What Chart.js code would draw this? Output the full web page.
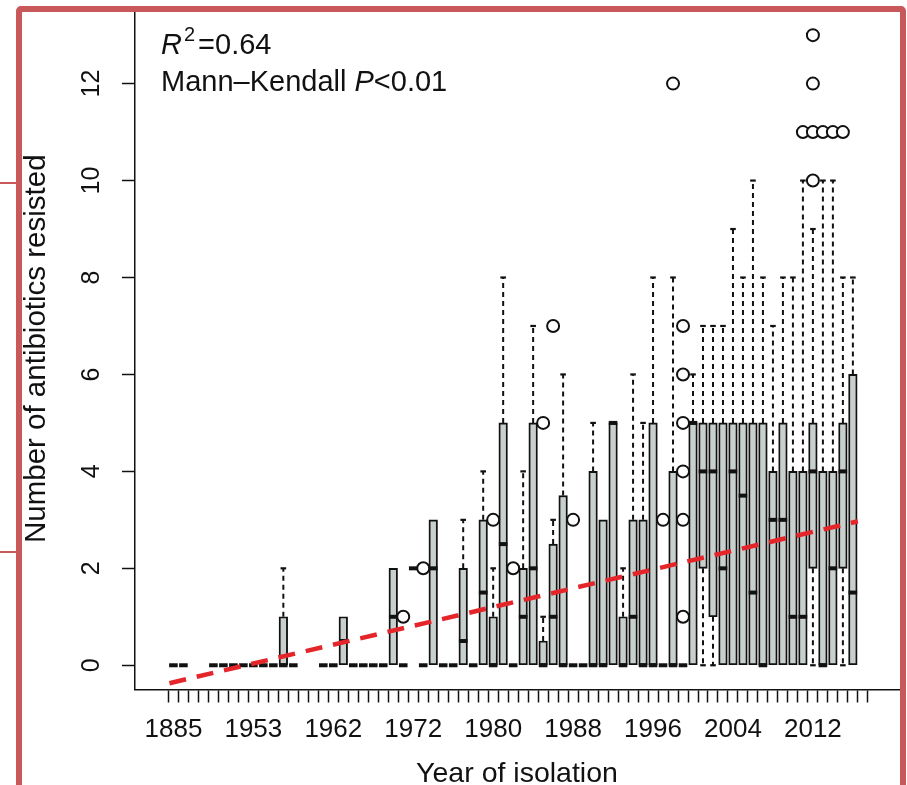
<!DOCTYPE html>
<html lang="en">
<head>
<meta charset="UTF-8">
<title>Antibiotics resisted by year of isolation</title>
<script src="https://cdn.jsdelivr.net/npm/chart.js@4"></script>
<style>
  body { margin: 0; background: #fff; overflow: hidden; }
  #wrap { position: relative; width: 907px; height: 785px; }
  #frame {
    position: absolute; left: 16px; top: 6px; width: 890px; height: 820px;
    border: 6px solid #c9585a; border-radius: 5px; box-sizing: border-box;
    pointer-events: none;
  }
  .tab { position: absolute; left: 0; width: 17px; height: 2px; background: #c9585a; }
</style>
</head>
<body>
<div id="wrap">
  <canvas id="chart" width="907" height="785"></canvas>
  <div id="frame"></div>
  <div class="tab" style="top:182px"></div>
  <div class="tab" style="top:551px"></div>
</div>
<script>
// one entry per year group on the x axis (null = no isolates)
const years = [
  1885, 1914, 1927, 1936, 1943, 1949, 1951, 1952,
  1953, 1954, 1955, 1956, 1957, 1958, 1959, 1960,
  1962, 1963, 1964, 1965, 1966, 1968, 1969, 1970,
  1972, 1973, 1974, 1975, 1976, 1977, 1978, 1979,
  1980, 1981, 1982, 1983, 1984, 1985, 1986, 1987,
  1988, 1989, 1990, 1991, 1992, 1993, 1994, 1995,
  1996, 1997, 1998, 1999, 2000, 2001, 2002, 2003,
  2004, 2005, 2006, 2007, 2008, 2009, 2010, 2011,
  2012, 2013, 2014, 2015, 2016, 2017
]
const lower = [
  0, 0, null, null, 0, 0, 0, 0,
  0, 0, 0, 0, 0, null, null, 0,
  0, 0, 0, 0, 0, 0, 0, 0,
  2, 0, 0, 0, 0, 0, 0, 0,
  0, 0, 0, 0, 0, 0, 0, 0,
  0, 0, 0, 0, 0, 0, 0, 0,
  0, 0, 0, 0, 0, 0, 0, 0,
  0, 0, 0, 0, 0, 0, 0, 0,
  0, 0, 0, 0, 0, null
]
const q1 = [
  0, 0, null, null, 0, 0, 0, 0,
  0, 0, 0, 0, 0, null, null, 0,
  0, 0, 0, 0, 0, 0, 0, 0,
  2, 0, 0, 0, 0, 0, 0, 0,
  0, 0, 0, 0, 0, 0, 0, 0,
  0, 0, 0, 0, 0, 0, 0, 0,
  0, 0, 0, 0, 0, 2, 1, 0,
  0, 0, 0, 0, 0, 0, 0, 0,
  2, 0, 0, 2, 0, null
]
const median = [
  0, 0, null, null, 0, 0, 0, 0,
  0, 0, 0, 0, 0, null, null, 0,
  0, 0.5, 0, 0, 0, 0, 1, 0,
  2, 0, 2, 0, 0, 0.5, 0, 1.5,
  0, 2.5, 0, 1, 2, 0, 1, 0,
  0, 0, 0, 0, 5, 0, 1, 0,
  0, 0, 0, 0, 5, 4, 4, 2,
  4, 3.5, 1.5, 0, 3, 3, 1, 1,
  4, 0, 2, 4, 1.5, null
]
const q3 = [
  0, 0, null, null, 0, 0, 0, 0,
  0, 0, 0, 1, 0, null, null, 0,
  0, 1, 0, 0, 0, 0, 2, 0,
  2, 0, 3, 0, 0, 2, 0, 3,
  1, 5, 0, 2, 5, 0.5, 2.5, 3.5,
  0, 0, 4, 3, 5, 1, 3, 3,
  5, 0, 4, 0, 5, 5, 5, 5,
  5, 5, 5, 5, 4, 5, 4, 4,
  5, 4, 4, 5, 6, null
]
const upper = [
  0, 0, null, null, 0, 0, 0, 0,
  0, 0, 0, 2, 0, null, null, 0,
  0, 1, 0, 0, 0, 0, 2, 0,
  2, 0, 3, 0, 0, 3, 0, 4,
  2, 8, 0, 4, 7, 1, 3, 6,
  0, 0, 5, 3, 5, 2, 6, 5,
  8, 0, 8, 0, 6, 7, 7, 7,
  9, 8, 10, 8, 7, 8, 8, 10,
  9, 10, 10, 8, 8, null
]
// outlying isolates: group index and number of antibiotics
const outlierGroup = [23, 25, 32, 34, 37, 38, 40, 49, 50, 51, 51, 51, 51, 51, 51, 63, 64, 64, 64, 64, 65, 66, 67]
const outlierValue = [1, 2, 3, 2, 5, 7, 3, 3, 12, 1, 3, 4, 5, 6, 7, 11, 10, 11, 12, 13, 11, 11, 11]
// fitted trend line, end points
const trendGroup = [-0.4, 68.5]
const trendValue = [-0.37, 2.97]
const yTicks = [0, 2, 4, 6, 8, 10, 12]
const labelEvery = 8
const rSquared = '0.64'
const mkP = '<0.01'

const FONT = '"Liberation Sans", Arial, Helvetica, sans-serif'
const INK = '#111111'
const BOX_W = 8.6

Chart.defaults.font.family = FONT
Chart.defaults.color = INK

const boxData = []
years.forEach((yr, i) => {
  if (q1[i] != null && q3[i] > q1[i]) boxData.push({ x: i, y: [q1[i], q3[i]] })
})

// medians (thick bars) and dotted whiskers with staples
const boxParts = {
  id: 'boxParts',
  afterDatasetDraw(chart, args) {
    if (args.meta.type !== 'bar') return
    const { ctx, scales: { x, y } } = chart
    const half = BOX_W / 2
    const whisker = (cx, from, to) => {
      ctx.setLineDash([5, 4])
      ctx.lineWidth = 2
      ctx.beginPath()
      ctx.moveTo(cx, y.getPixelForValue(from))
      ctx.lineTo(cx, y.getPixelForValue(to))
      ctx.stroke()
      ctx.setLineDash([])
      ctx.lineWidth = 2.2
      ctx.beginPath()
      ctx.moveTo(cx - 2.8, y.getPixelForValue(to))
      ctx.lineTo(cx + 2.8, y.getPixelForValue(to))
      ctx.stroke()
    }
    ctx.save()
    ctx.strokeStyle = INK
    years.forEach((yr, i) => {
      if (median[i] == null) return
      const cx = x.getPixelForValue(i)
      if (upper[i] > q3[i]) whisker(cx, q3[i], upper[i])
      if (lower[i] < q1[i]) whisker(cx, q1[i], lower[i])
      const my = y.getPixelForValue(median[i])
      ctx.setLineDash([])
      ctx.lineWidth = 4
      ctx.beginPath()
      ctx.moveTo(cx - half, my)
      ctx.lineTo(cx + half, my)
      ctx.stroke()
    })
    ctx.restore()
  }
}

// fit statistics in the top left corner
const statsText = {
  id: 'statsText',
  afterDraw(chart) {
    const ctx = chart.ctx
    const put = (txt, x, y, font) => {
      ctx.font = font
      ctx.fillText(txt, x, y)
      return x + ctx.measureText(txt).width
    }
    const reg = '29px ' + FONT
    const ita = 'italic 29px ' + FONT
    const x0 = 161
    ctx.save()
    ctx.fillStyle = INK
    ctx.textBaseline = 'alphabetic'
    let x = put('R', x0, 54, ita)
    x = put('2', x + 2, 41, '20px ' + FONT)
    put('=' + rSquared, x + 3, 54, reg)
    x = put('Mann\u2013Kendall ', x0, 91, reg)
    x = put('P', x, 91, ita)
    put(mkP, x, 91, reg)
    ctx.restore()
  }
}

new Chart(document.getElementById('chart'), {
  data: {
    datasets: [
      {
        type: 'line',
        order: 1,
        data: trendGroup.map((g, k) => ({ x: g, y: trendValue[k] })),
        borderColor: '#e4262b',
        borderWidth: 4.5,
        borderDash: [17, 11],
        borderCapStyle: 'butt',
        pointRadius: 0,
        fill: false
      },
      {
        type: 'scatter',
        order: 2,
        data: outlierGroup.map((g, k) => ({ x: g, y: outlierValue[k] })),
        pointRadius: 6,
        pointBorderWidth: 2,
        pointBackgroundColor: '#ffffff',
        pointBorderColor: INK
      },
      {
        type: 'bar',
        order: 3,
        data: boxData,
        barThickness: BOX_W,
        backgroundColor: '#c8d0cd',
        borderColor: INK,
        borderWidth: 1.9,
        borderSkipped: false
      }
    ]
  },
  options: {
    responsive: false,
    animation: false,
    events: [],
    layout: { padding: { top: 6, right: 7, left: 0, bottom: 0 } },
    plugins: { legend: { display: false }, tooltip: { enabled: false } },
    scales: {
      x: {
        type: 'linear',
        min: -3.3,
        max: 72.07,
        afterFit: (s) => { s.height = 95.5; s.paddingLeft = 0; s.paddingRight = 0 },
        afterBuildTicks: (s) => { s.ticks = years.map((yr, i) => ({ value: i })) },
        grid: { drawOnChartArea: false, tickLength: 13, tickColor: INK, tickWidth: 1.5 },
        border: { color: INK, width: 1.5 },
        ticks: {
          autoSkip: false,
          maxRotation: 0,
          minRotation: 0,
          padding: 12,
          font: { size: 26 },
          color: INK,
          callback: (v) => (v % labelEvery === 0 ? String(years[v]) : '')
        },
        title: {
          display: true,
          text: 'Year of isolation',
          font: { size: 28.5 },
          color: INK,
          padding: { top: 0, bottom: -6 }
        }
      },
      y: {
        type: 'linear',
        min: -0.5,
        max: 13.56,
        afterFit: (s) => { s.width = 135; s.paddingTop = 0; s.paddingBottom = 0 },
        afterBuildTicks: (s) => { s.ticks = yTicks.map((v) => ({ value: v })) },
        grid: { drawOnChartArea: false, tickLength: 13, tickColor: INK, tickWidth: 1.5 },
        border: { color: INK, width: 1.5 },
        ticks: {
          minRotation: 90,
          maxRotation: 90,
          crossAlign: 'center',
          padding: 16,
          font: { size: 25 },
          color: INK
        },
        title: {
          display: true,
          text: 'Number of antibiotics resisted',
          font: { size: 29.5 },
          color: INK,
          padding: { top: 19, bottom: 0 }
        }
      }
    }
  },
  plugins: [boxParts, statsText]
})
</script>
</body>
</html>
